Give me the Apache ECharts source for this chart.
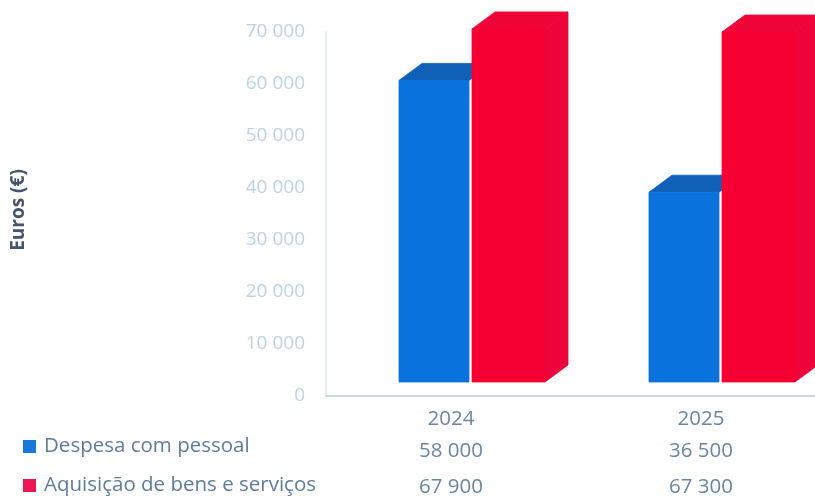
<!DOCTYPE html>
<html><head><meta charset="utf-8">
<style>html,body{margin:0;padding:0;background:#fff}#c{width:815px;height:496px}</style>
<script src="https://cdn.jsdelivr.net/npm/echarts@6/dist/echarts.min.js"></script>
</head><body><div id="c"></div>
<script>
const categories = ['2024', '2025'];
const despesaPessoal = [58000, 36500];
const aquisicaoBens = [67900, 67300];
const yTicks = [0, 10000, 20000, 30000, 40000, 50000, 60000, 70000];

const fmt = v => String(v).replace(/\B(?=(\d{3})+$)/g, ' ');
const FONT = '"Open Sans","Noto Sans",sans-serif';
const LIFT = 14, DX = 23, DY = 17;

function bar3d(x0, x1, front, top, side) {
  return function (params, api) {
    const p = api.coord([api.value(0), api.value(1)]);
    const b = api.coord([api.value(0), 0]);
    const l = p[0] + x0, r = p[0] + x1, t = p[1] - LIFT, y = b[1] - LIFT;
    const st = c => ({ fill: c, stroke: c, lineWidth: 0.8 });
    const children = [
      { type: 'polygon', shape: { points: [[l, t], [l + DX, t - DY], [r + DX, t - DY], [r, t]] }, style: st(top) },
      { type: 'rect', shape: { x: l, y: t, width: x1 - x0, height: y - t }, style: st(front) }
    ];
    if (side) {
      children.unshift({ type: 'polygon', shape: { points: [[r, t], [r + DX, t - DY], [r + DX, y - DY], [r, y]] }, style: st(side) });
    }
    return { type: 'group', children };
  };
}

const chart = echarts.init(document.getElementById('c'), null, { renderer: 'canvas' });
chart.setOption({
  animation: false,
  backgroundColor: '#fff',
  grid: { left: 326, top: 32, width: 500, height: 364, outerBoundsMode: 'none' },
  legend: {
    orient: 'vertical', left: 23, top: 433, height: 66, padding: 0, itemWidth: 13, itemHeight: 13, itemGap: 12,
    icon: 'rect',
    textStyle: { fontFamily: FONT, fontSize: 20.5, color: '#5f7c9c', padding: [0, 0, 0, 3], height: 27, lineHeight: 27 }
  },
  xAxis: {
    type: 'category', data: categories,
    axisTick: { show: false },
    axisLine: { lineStyle: { color: '#b7d0e2', width: 1.5 } },
    axisLabel: {
      margin: 8,
      interval: 0,
      formatter: (v, i) => `{a|${v}}\n{b|${fmt(despesaPessoal[i])}}\n{c|${fmt(aquisicaoBens[i])}}`,
      rich: {
        a: { fontFamily: FONT, fontSize: 20.5, color: '#6a86a3', lineHeight: 30 },
        b: { fontFamily: FONT, fontSize: 20.5, color: '#6a86a3', lineHeight: 34 },
        c: { fontFamily: FONT, fontSize: 20.5, color: '#6a86a3', lineHeight: 39 }
      }
    }
  },
  yAxis: {
    type: 'value', min: 0, max: yTicks[yTicks.length - 1], interval: 10000,
    name: 'Euros (€)', nameLocation: 'middle', nameGap: 298, nameRotate: 90,
    nameTextStyle: { fontFamily: FONT, fontSize: 19, fontWeight: 'bold', color: '#44546a', padding: [0, 0, 0, 8] },
    axisLine: { show: true, lineStyle: { color: '#dfe9e9', width: 1.5 } },
    axisTick: { show: false },
    splitLine: { show: false },
    axisLabel: { margin: 21, fontFamily: FONT, fontSize: 19, color: '#bdd3e3', formatter: fmt }
  },
  series: [
    {
      name: 'Despesa com pessoal', type: 'custom', itemStyle: { color: '#1a78d8' }, clip: false,
      encode: { x: 0, y: 1 }, data: categories.map((c, i) => [i, despesaPessoal[i]]),
      renderItem: bar3d(-52, 18, '#0a72dc', '#1060b8', null)
    },
    {
      name: 'Aquisição de bens e serviços', type: 'custom', itemStyle: { color: '#ec1556' }, clip: false,
      encode: { x: 0, y: 1 }, data: categories.map((c, i) => [i, aquisicaoBens[i]]),
      renderItem: bar3d(21, 94, '#f60034', '#ef0438', '#ee043a')
    }
  ]
});
</script></body></html>
